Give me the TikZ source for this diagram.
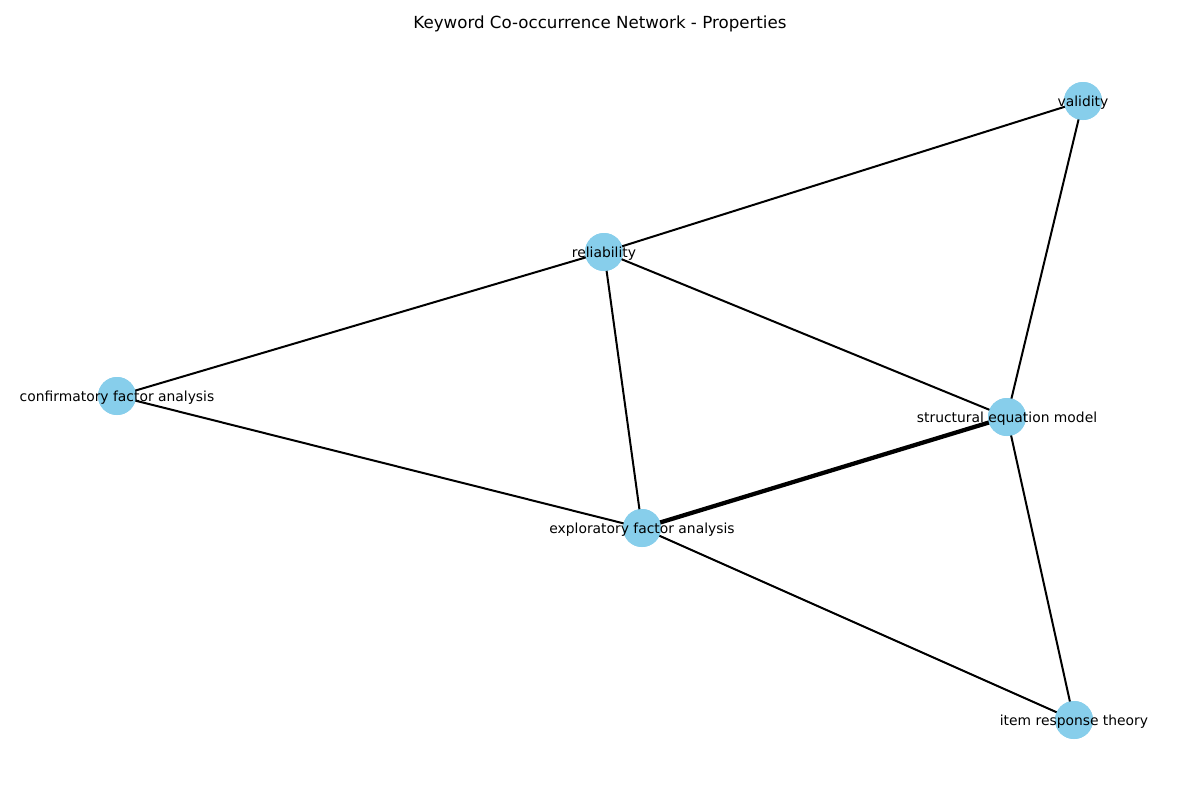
\documentclass[tikz,border=0pt]{standalone}
\usepackage{fontspec}
\setmainfont{DejaVu Sans}
\definecolor{skyblue}{HTML}{87CEEB}
\begin{document}
\begin{tikzpicture}[x=0.75pt,y=-0.75pt,
  kw/.style={circle,fill=skyblue,draw=none,minimum size=28.5pt,inner sep=0pt},
  lbl/.style={font=\fontsize{10.4pt}{12pt}\selectfont,inner sep=0pt,text=black,yshift=-1.5pt},
  edge/.style={line width=1.5pt,black},
  heavy/.style={line width=3.2pt,black}]
\useasboundingbox (0,0) rectangle (1200,800);
\node[font=\fontsize{12.5pt}{15pt}\selectfont,inner sep=0pt] (title) at (600,24) {Keyword Co-occurrence Network - Properties};
\node[kw] (val) at (1083,101) {};
\node[kw] (rel) at (604,252) {};
\node[kw] (cfa) at (117,396) {};
\node[kw] (sem) at (1007,417) {};
\node[kw] (efa) at (642,528) {};
\node[kw] (irt) at (1074,720) {};
\draw[edge] (val.center) -- (rel.center);
\draw[edge] (val.center) -- (sem.center);
\draw[edge] (rel.center) -- (cfa.center);
\draw[edge] (rel.center) -- (efa.center);
\draw[edge] (rel.center) -- (sem.center);
\draw[edge] (cfa.center) -- (efa.center);
\draw[heavy] (efa.center) -- (sem.center);
\draw[edge] (efa.center) -- (irt.center);
\draw[edge] (sem.center) -- (irt.center);
\foreach \n in {val,rel,cfa,sem,efa,irt} \fill[skyblue] (\n) circle (19);
\node[lbl] (lval) at (val) {validity};
\node[lbl] (lrel) at (rel) {reliability};
\node[lbl] (lcfa) at (cfa) {confirmatory factor analysis};
\node[lbl] (lsem) at (sem) {structural equation model};
\node[lbl] (lefa) at (efa) {exploratory factor analysis};
\node[lbl] (lirt) at (irt) {item response theory};
\end{tikzpicture}
\end{document}
